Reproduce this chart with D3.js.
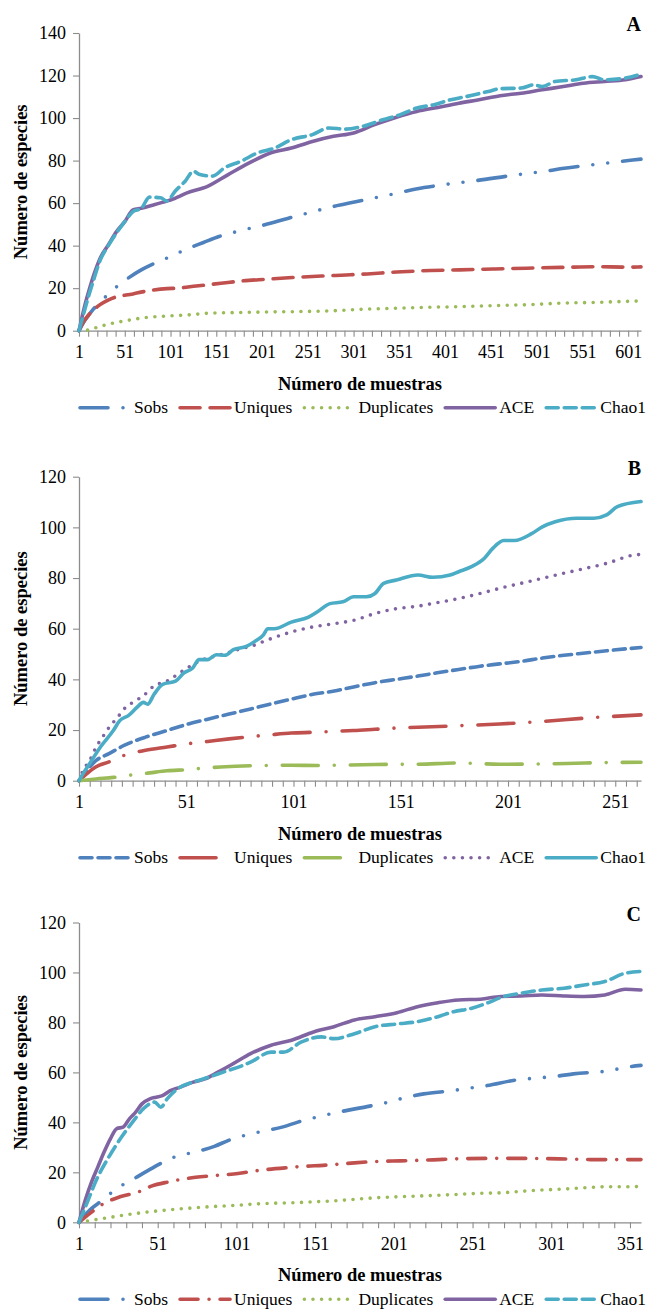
<!DOCTYPE html>
<html><head><meta charset="utf-8">
<script src="https://cdn.jsdelivr.net/npm/d3@7"></script>
<style>
body{margin:0;background:#fff}
svg{display:block}
svg text{font-family:"Liberation Serif","Times New Roman",serif;fill:#000}
</style>
</head><body>
<svg id="chart" width="654" height="1309"></svg>
<script>
// ---------- DATA ----------
const seriesNames = ["Sobs","Uniques","Duplicates","ACE","Chao1"];
const seriesColors = ["#4F81BD","#C0504D","#9BBB59","#8064A2","#4BACC6"];
const panelLetters = ["A","B","C"];
const xTitle = "Número de muestras";
const yTitle = "Número de especies";
const xMaxA = 615, xMaxB = 263, xMaxC = 358;
const yMaxA = 140, yMaxB = 120, yMaxC = 120;
const xLabelsA = [1,51,101,151,201,251,301,351,401,451,501,551,601];
const xLabelsB = [1,51,101,151,201,251];
const xLabelsC = [1,51,101,151,201,251,301,351];
const yTicksA = [0,20,40,60,80,100,120,140];
const yTicksBC = [0,20,40,60,80,100,120];

// Panel A  [sample, species]
const aSobs = [[1,0],[6,4],[11,7],[16,9.8],[21,12],[36,18.4],[52,23.9],[69,28.6],[85,32],[101,34.9],[118,38.3],[137,41.5],[154,44.3],[180,47.3],[204,49.8],[229,52.8],[248,55],[280,58.5],[302,60.5],[322,62.3],[341,64],[378,67.3],[397,68.5],[416,69.6],[435,70.6],[474,73],[492,74],[510,75],[531,76.4],[567,78.3],[585,79.2],[606,80.3],[615,80.7]];
const aUniques = [[1,0],[5,3.5],[10,6.6],[21,11.3],[37,15.2],[60,17.3],[72,18.4],[97,19.8],[108,20],[129,21],[156,22.3],[179,23.4],[206,24.2],[234,25],[266,25.7],[293,26.2],[316,26.7],[348,27.6],[385,28.3],[417,28.6],[453,29],[490,29.4],[531,29.8],[563,30.1],[601,29.9],[615,30]];
const aDuplicates = [[1,0],[13,0.4],[22,1.8],[31,2.8],[41,3.8],[51,4.6],[60,5.3],[72,6.1],[97,6.9],[120,7.4],[142,8.2],[170,8.5],[206,8.8],[243,9],[280,9.4],[307,10],[343,10.5],[380,11],[417,11.3],[453,11.8],[490,12.2],[526,12.9],[563,13.3],[615,14]];
const aACE = [[1,0],[8,12.9],[12,19],[17,26],[24,34],[33,40.3],[42,46.6],[51,51.3],[60,56.8],[69,57.6],[83,59.2],[97,61],[101,61.5],[119,64.8],[142,68],[164,73.4],[187,78.9],[210,83.6],[233,85.9],[256,89],[279,91.4],[301,93],[324,96.9],[347,100.3],[370,103.1],[393,105],[416,107],[438,108.6],[461,110.5],[484,111.7],[507,113.3],[530,114.8],[552,116.4],[575,117.2],[598,118],[615,119.5]];
const aChao1 = [[1,0],[8,11],[12,17],[17,23.9],[24,33],[33,40],[42,46],[51,51.3],[60,56],[69,57.5],[78,62.8],[90,62.5],[97,61],[106,65.6],[117,70.3],[126,75],[133,73.4],[147,72.7],[160,76.6],[178,79.7],[196,83.6],[215,85.9],[233,89.8],[256,92.2],[274,95.3],[292,94.8],[311,96.1],[333,99.2],[352,101.6],[370,104.7],[389,106.3],[407,108.6],[425,110.2],[448,112.5],[461,113.8],[484,114.1],[498,115.6],[507,114.8],[521,117.2],[544,118],[562,119.5],[575,118],[598,118.8],[615,120.6]];

// Panel B
const bSobs = [[1,0],[5,4.5],[9,8],[15,10.7],[22,13.9],[32,17.2],[42,19.8],[52,22.4],[61,24.3],[71,26.3],[81,28.3],[90,30.2],[100,32.2],[110,34.1],[120,35.4],[129,37],[139,38.7],[149,40],[159,41.3],[168,42.6],[178,43.9],[188,45.2],[197,46.1],[207,47.1],[217,48.4],[227,49.5],[237,50.4],[247,51.3],[263,52.6]];
const bUniques = [[1,0],[5,3],[9,5.5],[15,7.4],[22,10],[32,12],[42,13.3],[52,14.6],[61,15.5],[71,16.5],[81,17.4],[90,18.1],[100,18.8],[110,19.1],[120,19.5],[129,19.8],[139,20.3],[149,20.8],[159,21.1],[178,21.7],[197,22.4],[217,23.4],[237,24.7],[263,26]];
const bDuplicates = [[1,0],[9,0.7],[17,1.3],[25,2.2],[34,3.1],[42,3.9],[52,4.4],[57,4.8],[67,5.4],[81,5.9],[100,6.1],[112,6],[139,6.4],[159,6.5],[178,7],[197,6.5],[217,6.6],[237,7],[263,7.3]];
const bACE = [[1,0],[3,4.2],[6,8],[9,13.3],[12,17.2],[15,21],[19,25],[22,28.3],[26,30.9],[31,33.5],[36,37.4],[42,39.3],[48,42.6],[54,45.8],[59,47.8],[67,49.7],[75,51.7],[83,53.6],[89,55.6],[100,58.7],[110,60.7],[120,62],[129,63.3],[139,66],[149,67.9],[159,68.9],[168,70.3],[178,71.9],[188,73.9],[197,75.9],[207,77.9],[217,79.9],[227,81.9],[237,83.8],[247,85.8],[260,89.1],[263,89.3]];
const bChao1 = [[1,0],[3,2.9],[6,6.8],[11,13.3],[17,19.8],[20,23.7],[24,25.7],[28,28.9],[31,30.9],[33,30.2],[36,34.1],[40,38],[46,39.3],[50,42.6],[54,44.5],[57,47.8],[61,47.8],[65,49.7],[69,49.5],[73,51.7],[79,53],[83,55],[87,57.6],[89,60],[92,60],[100,62.6],[108,64.6],[112,66.6],[118,69.9],[124,70.6],[129,72.6],[135,72.6],[139,73.9],[143,77.9],[149,79.2],[159,81.2],[166,80.3],[174,81.2],[178,82.5],[184,84.5],[190,87.8],[194,91.8],[199,94.8],[204,94.8],[212,97.5],[217,100.2],[223,102.2],[233,103.6],[241,103.6],[247,104.9],[252,108.2],[263,110.2]];

// Panel C
const cSobs = [[1,0],[8,5],[16,8.9],[25,13.5],[35,17.1],[45,20.8],[62,26.2],[75,28.2],[87,30.4],[96,32.8],[118,36.5],[130,38.1],[140,40.1],[152,42.1],[173,45],[184,46.3],[195,47.7],[205,49.4],[220,51.4],[238,52.7],[250,53.8],[260,54.7],[279,57],[293,57.8],[306,58.6],[315,59.4],[338,60.7],[348,62],[358,62.8]];
const cUniques = [[1,0],[8,3.6],[17,7.6],[27,10.2],[39,12.2],[47,14.5],[58,16.2],[75,18],[91,18.9],[102,19.5],[112,20.5],[120,21.1],[134,21.9],[144,22.4],[156,22.8],[165,23.2],[176,23.8],[192,24.4],[205,24.6],[226,25],[241,25.4],[264,25.6],[280,25.6],[295,25.5],[306,25.4],[327,25.1],[358,25.1]];
const cDuplicates = [[1,0],[6,0.5],[17,1.6],[30,2.9],[43,4],[57,4.9],[70,5.6],[83,6.2],[96,6.6],[110,7.2],[123,7.6],[136,7.8],[150,8.2],[163,8.6],[176,9.2],[189,9.8],[203,10.2],[216,10.5],[229,10.8],[242,11.2],[256,11.6],[269,11.8],[282,12.4],[295,12.9],[309,13.3],[322,13.8],[335,14.2],[348,14.2],[356,14.3]];
const cACE = [[1,0],[5,8.9],[9,16.2],[13,22.2],[17,28.2],[21,33.5],[25,37.5],[29,38.1],[33,41.4],[37,44.1],[41,47.4],[46,49.4],[50,50.1],[54,50.7],[59,52.7],[65,54],[73,56],[81,57.4],[89,60],[99,63.5],[110,67.5],[123,70.9],[136,72.9],[150,76.2],[163,78.3],[176,81],[189,82.3],[203,83.9],[216,86.3],[229,87.9],[242,89],[256,89.3],[269,90.4],[282,90.6],[295,91],[309,90.6],[322,90.4],[335,91],[348,93.3],[358,93]];
const cChao1 = [[1,0],[6,7.6],[12,16.9],[20,26.2],[28,34.1],[35,40.1],[43,46.1],[49,48.1],[53,46.1],[57,49.4],[65,54],[73,56],[83,58],[94,60.4],[104,62.5],[110,64.1],[123,68.1],[131,68.1],[142,72.1],[155,74.2],[163,73.5],[176,75.5],[189,78.3],[203,79.4],[216,80.3],[229,82.3],[239,84.3],[250,85.6],[260,87.7],[271,90.4],[282,91.7],[295,93],[309,93.7],[322,95],[335,96.4],[348,99.7],[358,100.4]];

// ---------- STYLES ----------
const FONT = '"Liberation Serif","Times New Roman",serif';
const dashStyles = {
  solid: null,
  dash: "12 6",
  longDash: "20 10",
  longDashDotDot: "28 15 0 15 0 15",
  longDashDot: "36 16 0 16",
  dashDot: "18 11 0 11",
  dot: "0 8.6"
};

const panels = [
  {letter:"A", n:xMaxA, ymax:yMaxA, yTicks:yTicksA, xLabels:xLabelsA, minor:10, yTop:33, y0:330.7,
   data:[aSobs,aUniques,aDuplicates,aACE,aChao1],
   styles:["longDashDotDot","longDash","dot","solid","dash"]},
  {letter:"B", n:xMaxB, ymax:yMaxB, yTicks:yTicksBC, xLabels:xLabelsB, minor:5, yTop:476.7, y0:780.7,
   data:[bSobs,bUniques,bDuplicates,bACE,bChao1],
   styles:["dash","longDashDot","longDashDot","dot","solid"]},
  {letter:"C", n:xMaxC, ymax:yMaxC, yTicks:yTicksBC, xLabels:xLabelsC, minor:10, yTop:922.5, y0:1222.3,
   data:[cSobs,cUniques,cDuplicates,cACE,cChao1],
   styles:["longDashDotDot","dashDot","dot","solid","dash"]}
];

const svg = d3.select("#chart");
const axisColor = "#8c8c8c";
const LW = 3.6;

panels.forEach(p => {
  const g = svg.append("g").attr("font-family", FONT);
  const x = d3.scaleLinear().domain([1, p.n]).range([79, 641]);
  const y = d3.scaleLinear().domain([0, p.ymax]).range([p.y0, p.yTop]);

  const ya = g.append("g").attr("transform","translate(79,0)")
    .call(d3.axisLeft(y).tickValues(p.yTicks).tickSizeInner(6).tickSizeOuter(0).tickPadding(7));
  const xa = g.append("g").attr("transform",`translate(0,${p.y0})`)
    .call(d3.axisBottom(x).tickValues(d3.range(1, p.n + 1, p.minor))
      .tickFormat(d => p.xLabels.includes(d) ? d : "")
      .tickSizeInner(6).tickSizeOuter(0).tickPadding(9));
  [ya, xa].forEach(a => {
    a.attr("font-family", FONT).attr("font-size", 18);
    a.select(".domain").attr("stroke", axisColor).attr("stroke-width", 1.3);
    a.selectAll(".tick line").attr("stroke", axisColor).attr("stroke-width", 1.1);
    a.selectAll("text").style("font-family", FONT).style("font-size", "18px").attr("fill","#000");
  });

  const line = d3.line().x(d => x(d[0])).y(d => y(d[1])).curve(d3.curveMonotoneX);
  p.data.forEach((d, i) => {
    const st = dashStyles[p.styles[i]];
    g.append("path").datum(d)
      .attr("d", line)
      .attr("fill","none")
      .attr("stroke", seriesColors[i])
      .attr("stroke-width", LW)
      .attr("stroke-linecap", "round")
      .attr("stroke-linejoin","round")
      .attr("stroke-dasharray", st);
  });

  g.append("text").attr("x", 360).attr("y", p.y0 + 59)
    .attr("text-anchor","middle").style("font-family", FONT).style("font-weight","bold").style("font-size","18.5px").text(xTitle);
  g.append("text").attr("transform", `translate(27,${(p.y0 + p.yTop)/2}) rotate(-90)`)
    .attr("text-anchor","middle").style("font-family", FONT).style("font-weight","bold").style("font-size","18.5px").text(yTitle);
  g.append("text").attr("x", 641).attr("y", p.yTop - 2)
    .attr("text-anchor","end").style("font-family", FONT).style("font-weight","bold").style("font-size","20px").text(p.letter);

  const ly = p.y0 + 77;
  let lx = 78;
  seriesNames.forEach((name, i) => {
    const st = dashStyles[p.styles[i]];
    g.append("line").attr("x1", lx + 2).attr("x2", lx + 52).attr("y1", ly).attr("y2", ly)
      .attr("stroke", seriesColors[i]).attr("stroke-width", LW)
      .attr("stroke-linecap","round").attr("stroke-dasharray", st);
    const t = g.append("text").attr("x", lx + 56).attr("y", ly + 5.5)
      .style("font-family", FONT).style("font-size", "17.5px").text(name);
    lx = lx + 56 + t.node().getComputedTextLength() + 10;
  });
});
</script>
</body></html>
